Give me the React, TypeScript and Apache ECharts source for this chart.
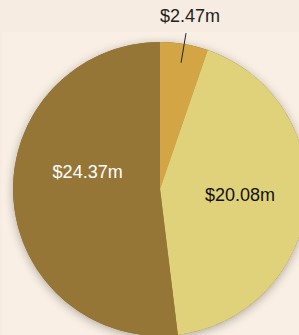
import React, { useEffect, useRef } from "react";
import * as echarts from "echarts";

const categories = ["Segment A", "Segment B", "Segment C"];
const values = [2.47, 20.08, 24.37];
const sliceColors = ["#d4a545", "#e0d27a", "#967636"];
const labelColors = ["#222222", "#111111", "#ffffff"];

const fmt = (v: number) => `$${v.toFixed(2)}m`;

export default function App() {
  const ref = useRef<HTMLDivElement>(null);
  useEffect(() => {
    document.body.style.margin = "0";
    const chart = echarts.init(ref.current!, undefined, { renderer: "svg" });
    const center = [160, 189];
    const R = 147;
    const font = "'Liberation Sans', Arial, Helvetica, sans-serif";
    const insideShift: Record<number, [number, number]> = { 1: [4, -2], 2: [4, -22] };
    chart.setOption({
      animation: false,
      backgroundColor: "#f6ece1",
      graphic: [
        {
          type: "rect",
          z: -10,
          shape: { x: 2, y: 32, width: 297, height: 303 },
          style: { fill: "#f9efe4" },
          silent: true,
        },
      ],
      series: [
        {
          type: "pie",
          silent: true,
          z: 1,
          center,
          radius: R,
          label: { show: false },
          labelLine: { show: false },
          itemStyle: {
            color: "#967636",
            shadowBlur: 10,
            shadowOffsetY: 2,
            shadowColor: "rgba(0,0,0,0.3)",
            borderWidth: 0,
          },
          data: [{ value: 1, name: "backdrop" }],
        },
        {
          type: "pie",
          silent: true,
          z: 2,
          center,
          radius: R,
          startAngle: 90,
          clockwise: true,
          avoidLabelOverlap: false,
          itemStyle: { borderWidth: 0 },
          labelLine: { show: false },
          labelLayout: (p: any) => {
            const s = insideShift[p.dataIndex];
            return s ? { dx: s[0], dy: s[1] } : {};
          },
          data: values.map((v, i) => ({
            value: v,
            name: categories[i],
            itemStyle: { color: sliceColors[i] },
            label: {
              show: i !== 0,
              position: "inside",
              formatter: fmt(v),
              color: labelColors[i],
              fontSize: 18,
              fontFamily: font,
            },
          })),
        },
        {
          type: "pie",
          silent: true,
          z: 5,
          center,
          radius: 128,
          startAngle: 90,
          clockwise: true,
          avoidLabelOverlap: false,
          itemStyle: { color: "rgba(0,0,0,0)", borderWidth: 0 },
          labelLine: {
            show: true,
            length: 30,
            length2: 0,
            smooth: false,
            lineStyle: { color: "#222222", width: 1 },
          },
          labelLayout: (p: any) => {
            const pts = p.labelLinePoints;
            if (!pts || !pts.length) return {};
            const end = pts[pts.length - 1];
            return {
              x: end[0] + 4,
              y: end[1] - 17,
              align: "center",
              verticalAlign: "middle",
              labelLinePoints: pts,
            };
          },
          data: values.map((v, i) => ({
            value: v,
            name: categories[i] + " outer",
            label: {
              show: i === 0,
              position: "outside",
              formatter: fmt(v),
              color: "#222222",
              fontSize: 18,
              fontFamily: font,
            },
            labelLine: { show: i === 0 },
          })),
        },
      ],
    });
    return () => chart.dispose();
  }, []);
  return <div ref={ref} style={{ width: 299, height: 335 }} />;
}
